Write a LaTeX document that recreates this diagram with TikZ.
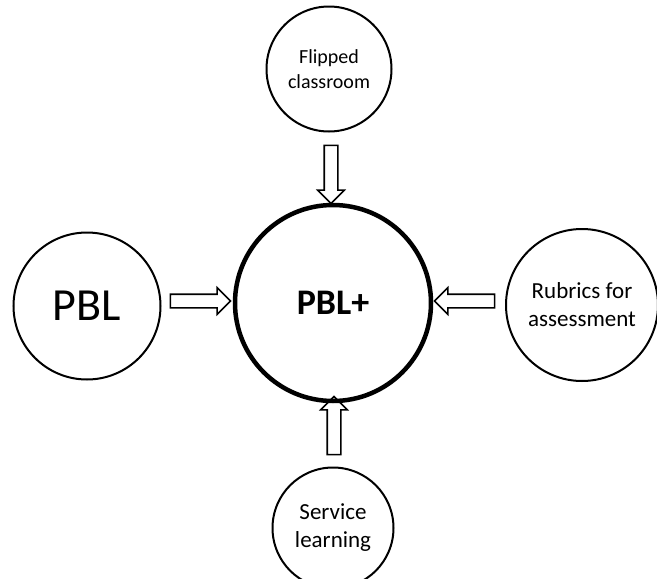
\documentclass[tikz,border=0pt]{standalone}
\usepackage{fontspec}
\setmainfont{Carlito}
\usetikzlibrary{shapes.arrows}
\begin{document}
\begin{tikzpicture}[x=1pt,y=-1pt,
  bubble/.style={circle, draw, line width=2pt, inner sep=0pt, align=center},
  hub/.style={circle, draw, line width=4.5pt, inner sep=0pt, minimum size=196pt, align=center},
  blockarrow/.style={single arrow, draw, line width=1.6pt, inner sep=6pt,
    minimum width=25pt, minimum height=60pt, single arrow head extend=6.5pt}]
\clip (0,0) rectangle (657,579);
\fill[white] (0,0) rectangle (657,579);
\node[hub, font=\fontsize{36}{40}\selectfont\bfseries] (hub) at (333,303) {PBL+};
\node[bubble, minimum size=125pt, font=\fontsize{20}{24.5}\selectfont] (flip) at (329,69)
  {Flipped\\classroom};
\node[bubble, minimum size=147pt, font=\fontsize{46}{50}\selectfont] (pbl) at (87,306)
  {PBL};
\node[bubble, minimum size=152pt, font=\fontsize{23}{28}\selectfont] (rub) at (582,305)
  {Rubrics for\\assessment};
\node[bubble, minimum size=121pt, font=\fontsize{23}{28}\selectfont] (serv) at (333,528)
  {Service\\learning};
\node[blockarrow, shape border rotate=270, minimum height=58pt] (a1) at (331,171) {};
\node[blockarrow, shape border rotate=0] (a2) at (197,301) {};
\node[blockarrow, shape border rotate=180] (a3) at (468,301) {};
\node[blockarrow, shape border rotate=90, minimum height=58pt] (a4) at (334,429) {};
\end{tikzpicture}
\end{document}
